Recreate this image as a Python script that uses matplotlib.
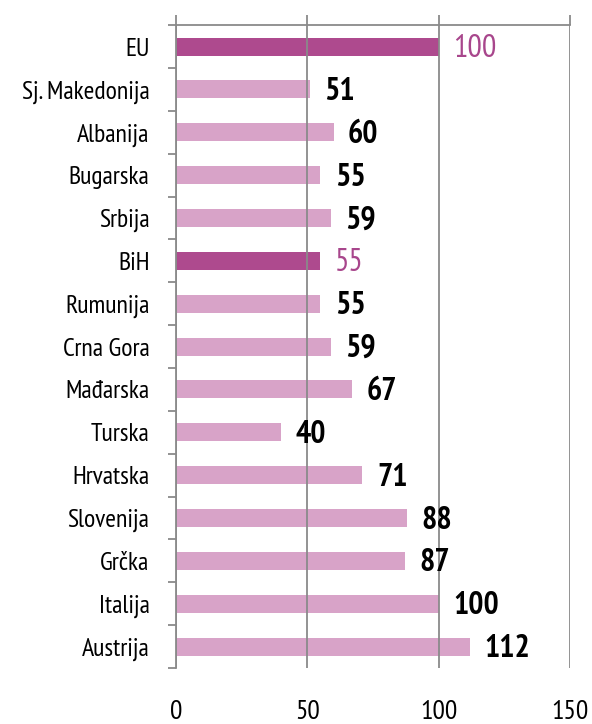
import matplotlib
matplotlib.use('Agg')
import matplotlib.pyplot as plt
import numpy as np

# podaci
drzave = ['EU', 'Sj. Makedonija', 'Albanija', 'Bugarska', 'Srbija', 'BiH',
          'Rumunija', 'Crna Gora', 'Mađarska', 'Turska', 'Hrvatska',
          'Slovenija', 'Grčka', 'Italija', 'Austrija']
vrijednosti = [100, 51, 60, 55, 59, 55, 55, 59, 67, 40, 71, 88, 87, 100, 112]
istaknute = ['EU', 'BiH']
x_oznake = [0, 50, 100, 150]

tamna = '#ae4a8e'
svijetla = '#d8a3c8'
siva = '#8a8a8a'

plt.rcParams['font.family'] = ['PT Sans Narrow', 'Fira Sans Condensed',
                               'Roboto Condensed', 'DejaVu Sans']

fig = plt.figure(figsize=(5.92, 7.24), dpi=100)
ax = fig.add_axes([0.297, 0.0773, 0.666, 0.888])

pos = np.arange(len(drzave))
boje = [tamna if d in istaknute else svijetla for d in drzave]
ax.barh(pos, vrijednosti, height=0.42, color=boje, zorder=1)

# oznake vrijednosti
for p, v, d in zip(pos, vrijednosti, drzave):
    if d in istaknute:
        ax.text(v + 5.5, p + 0.06, str(v), va='center', ha='left',
                fontsize=23, color='#a8468c')
    else:
        ax.text(v + 5.5, p + 0.06, str(v), va='center', ha='left',
                fontsize=23, color='black', fontweight='bold')

ax.set_xlim(0, 150)
ax.set_ylim(len(drzave) - 0.5, -0.5)
ax.set_xticks(x_oznake)
ax.set_yticks(pos)
ax.set_yticklabels(drzave, fontsize=18.5)
ax.set_yticks(np.arange(len(drzave) + 1) - 0.5, minor=True)

ax.grid(axis='x', color=siva, linewidth=1.3)
ax.set_axisbelow(False)

for s in ['right', 'bottom']:
    ax.spines[s].set_visible(False)
for s in ['top', 'left']:
    ax.spines[s].set_color(siva)
    ax.spines[s].set_linewidth(1.3)

ax.tick_params(axis='x', top=True, bottom=False, labeltop=False,
               labelbottom=True, direction='out', length=7, width=1.3,
               color=siva, pad=16, labelsize=20)
ax.tick_params(axis='y', which='major', length=0, pad=19)
ax.tick_params(axis='y', which='minor', length=6, width=1.3, color=siva)

fig.savefig('out.png', dpi=100)
